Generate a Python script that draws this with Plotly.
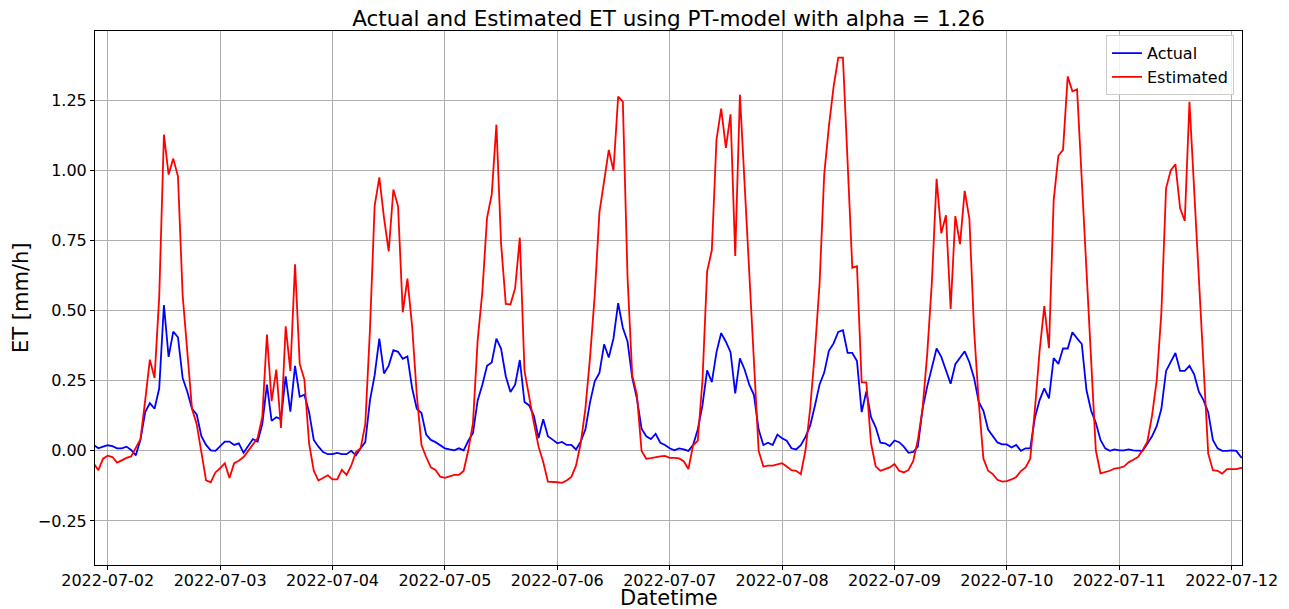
import pandas as pd
import plotly.graph_objects as go

# Hourly series starting 2022-07-01 21:00
start_time = "2022-07-01 21:00"
x_range = ["2022-07-01 21:17", "2022-07-12 02:13"]

actual = [
    0.021, 0.009, 0.015, 0.020, 0.017, 0.009, 0.009, 0.015, 0.003, -0.016,
    0.040, 0.138, 0.170, 0.150, 0.223, 0.520, 0.335, 0.425, 0.405, 0.260,
    0.211, 0.150, 0.130, 0.052, 0.021, 0.002, 0.000, 0.015, 0.033, 0.033,
    0.021, 0.027, -0.007, 0.017, 0.042, 0.033, 0.095, 0.236, 0.107, 0.120,
    0.113, 0.266, 0.140, 0.303, 0.193, 0.200, 0.138, 0.039, 0.015, -0.004,
    -0.012, -0.012, -0.007, -0.012, -0.012, 0.000, -0.016, 0.009, 0.031, 0.180,
    0.270, 0.400, 0.276, 0.304, 0.359, 0.353, 0.328, 0.337, 0.224, 0.150,
    0.135, 0.058, 0.039, 0.031, 0.021, 0.009, 0.005, 0.002, 0.009, 0.002,
    0.036, 0.064, 0.180, 0.236, 0.303, 0.315, 0.400, 0.364, 0.266, 0.210,
    0.236, 0.324, 0.174, 0.162, 0.125, 0.046, 0.113, 0.052, 0.040, 0.027,
    0.032, 0.021, 0.021, 0.005, 0.033, 0.076, 0.174, 0.248, 0.278, 0.380,
    0.333, 0.401, 0.527, 0.439, 0.390, 0.261, 0.187, 0.079, 0.052, 0.042,
    0.061, 0.029, 0.021, 0.009, 0.002, 0.009, 0.005, 0.000, 0.021, 0.076,
    0.162, 0.287, 0.245, 0.352, 0.420, 0.389, 0.352, 0.205, 0.330, 0.290,
    0.236, 0.199, 0.076, 0.021, 0.029, 0.021, 0.058, 0.045, 0.036, 0.009,
    0.005, 0.020, 0.050, 0.090, 0.160, 0.236, 0.279, 0.357, 0.383, 0.424,
    0.430, 0.349, 0.349, 0.320, 0.138, 0.212, 0.120, 0.084, 0.029, 0.027,
    0.017, 0.037, 0.031, 0.015, -0.007, -0.004, 0.015, 0.150, 0.230, 0.297,
    0.365, 0.335, 0.285, 0.239, 0.309, 0.332, 0.355, 0.316, 0.260, 0.174,
    0.143, 0.076, 0.052, 0.030, 0.023, 0.023, 0.012, 0.021, 0.000, 0.009,
    0.009, 0.119, 0.181, 0.223, 0.187, 0.331, 0.310, 0.365, 0.365, 0.423,
    0.401, 0.381, 0.217, 0.143, 0.100, 0.039, 0.009, 0.000, 0.005, 0.002,
    0.002, 0.005, 0.002, 0.000, 0.000, 0.025, 0.052, 0.088, 0.150, 0.285,
    0.316, 0.349, 0.285, 0.285, 0.303, 0.273, 0.211, 0.181, 0.138, 0.039,
    0.009, 0.000, 0.000, 0.002, 0.000, -0.022, -0.030,
]

estimated = [
    -0.045, -0.069, -0.028, -0.017, -0.022, -0.042, -0.034, -0.025, -0.020, 0.011,
    0.042, 0.180, 0.325, 0.260, 0.550, 1.128, 0.985, 1.042, 0.979, 0.555,
    0.360, 0.150, 0.095, -0.010, -0.105, -0.112, -0.077, -0.062, -0.044, -0.097,
    -0.044, -0.035, -0.022, 0.000, 0.021, 0.045, 0.120, 0.415, 0.177, 0.290,
    0.082, 0.444, 0.285, 0.665, 0.310, 0.254, 0.027, -0.071, -0.106, -0.096,
    -0.087, -0.102, -0.102, -0.068, -0.086, -0.053, -0.004, 0.009, 0.095, 0.432,
    0.874, 0.975, 0.831, 0.711, 0.932, 0.872, 0.494, 0.614, 0.445, 0.200,
    0.021, -0.022, -0.059, -0.068, -0.092, -0.096, -0.090, -0.086, -0.086, -0.072,
    0.002, 0.100, 0.395, 0.567, 0.831, 0.914, 1.163, 0.739, 0.524, 0.522,
    0.580, 0.760, 0.285, 0.187, 0.100, 0.015, -0.040, -0.110, -0.110, -0.112,
    -0.114, -0.106, -0.093, -0.053, 0.027, 0.150, 0.334, 0.555, 0.850, 0.960,
    1.073, 0.999, 1.263, 1.245, 0.620, 0.270, 0.200, 0.000, -0.028, -0.026,
    -0.022, -0.020, -0.018, -0.025, -0.025, -0.027, -0.037, -0.065, 0.020, 0.036,
    0.250, 0.640, 0.715, 1.110, 1.220, 1.080, 1.200, 0.695, 1.270, 0.950,
    0.620, 0.280, 0.000, -0.056, -0.053, -0.053, -0.049, -0.044, -0.056, -0.069,
    -0.071, -0.083, 0.002, 0.150, 0.352, 0.592, 0.985, 1.157, 1.298, 1.402,
    1.402, 1.034, 0.653, 0.658, 0.244, 0.244, 0.027, -0.056, -0.071, -0.065,
    -0.059, -0.047, -0.071, -0.077, -0.068, -0.037, 0.039, 0.150, 0.346, 0.604,
    0.970, 0.776, 0.840, 0.506, 0.837, 0.737, 0.927, 0.828, 0.432, 0.174,
    -0.028, -0.071, -0.083, -0.103, -0.110, -0.108, -0.102, -0.093, -0.072, -0.059,
    -0.028, 0.150, 0.357, 0.516, 0.366, 0.893, 1.052, 1.073, 1.335, 1.282,
    1.289, 0.967, 0.645, 0.322, 0.002, -0.080, -0.075, -0.071, -0.063, -0.061,
    -0.056, -0.041, -0.032, -0.022, 0.002, 0.033, 0.125, 0.250, 0.494, 0.936,
    1.000, 1.022, 0.865, 0.820, 1.245, 0.930, 0.620, 0.300, -0.010, -0.069,
    -0.071, -0.081, -0.065, -0.065, -0.065, -0.061, -0.059,
]

y_ticks = [-0.25, 0.0, 0.25, 0.5, 0.75, 1.0, 1.25]
x_ticks = pd.date_range("2022-07-02", "2022-07-12", freq="D")

times = pd.date_range(start_time, periods=len(actual), freq="h")

FONT = "DejaVu Sans"

fig = go.Figure()
fig.add_trace(go.Scatter(x=times, y=actual, mode="lines", name="Actual",
                         line=dict(color="#0000ff", width=1.8)))
fig.add_trace(go.Scatter(x=times, y=estimated, mode="lines", name="Estimated",
                         line=dict(color="#ff0000", width=1.8)))

fig.update_layout(
    width=1289, height=609,
    margin=dict(l=95, r=47, t=31, b=44),
    paper_bgcolor="white", plot_bgcolor="white",
    font=dict(family=FONT, color="black", size=16),
    title=dict(text="Actual and Estimated ET using PT-model with alpha = 1.26",
               x=0.5, xref="paper", xanchor="center",
               y=1 - 18 / 609, yref="container", yanchor="middle",
               font=dict(family=FONT, size=21.5, color="black")),
    legend=dict(x=0.993, y=0.992, xanchor="right", yanchor="top",
                bgcolor="rgba(255,255,255,0.8)", bordercolor="#cccccc",
                borderwidth=1, font=dict(family=FONT, size=16, color="black")),
    showlegend=True,
    annotations=[
        dict(text="Datetime", xref="paper", yref="paper", x=0.5, y=(565 - 598) / 534,
             xanchor="center", yanchor="middle", showarrow=False,
             font=dict(family=FONT, size=21, color="black")),
        dict(text="ET [mm/h]", xref="paper", yref="paper", x=(21 - 95) / 1147, y=0.5,
             xanchor="center", yanchor="middle", showarrow=False, textangle=-90,
             font=dict(family=FONT, size=21, color="black")),
    ],
)

fig.update_xaxes(
    type="date", range=x_range, automargin=False,
    tickvals=list(x_ticks), tickformat="%Y-%m-%d",
    showgrid=True, gridcolor="#b0b0b0", gridwidth=1,
    showline=True, linecolor="black", linewidth=1, mirror=True,
    ticks="outside", ticklen=4, tickcolor="black", ticklabelstandoff=-3,
    tickfont=dict(family=FONT, size=16, color="black"),
    zeroline=False,
)
fig.update_yaxes(
    range=[-0.407, 1.497], automargin=False,
    tickvals=y_ticks, tickformat=".2f",
    showgrid=True, gridcolor="#b0b0b0", gridwidth=1,
    showline=True, linecolor="black", linewidth=1, mirror=True,
    ticks="outside", ticklen=4, tickcolor="black",
    tickfont=dict(family=FONT, size=16, color="black"),
    zeroline=False,
)

fig.write_html("out.html")
